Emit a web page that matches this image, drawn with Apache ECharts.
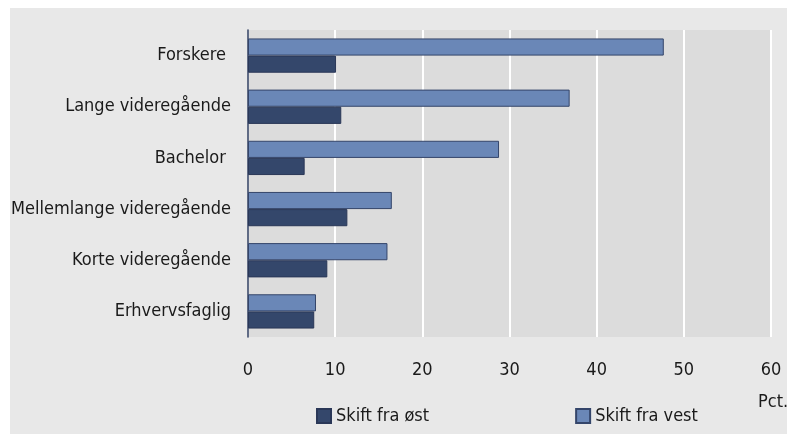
<!DOCTYPE html>
<html>
<head>
<meta charset="utf-8">
<script src="https://cdn.jsdelivr.net/npm/echarts@6/dist/echarts.min.js"></script>
<style>
  html, body { margin: 0; padding: 0; background: #ffffff; }
  #chart { width: 787px; height: 434px; }
</style>
</head>
<body>
<div id="chart"></div>
<script>
// Education groups, top to bottom
const categories = [
  'Forskere ',
  'Lange videregående',
  'Bachelor ',
  'Mellemlange videregående',
  'Korte videregående',
  'Erhvervsfaglig'
];
// Share (pct.) switching from the west
const fromWest = [47.7, 36.9, 28.8, 16.5, 16.0, 7.8];
// Share (pct.) switching from the east
const fromEast = [10.1, 10.7, 6.5, 11.4, 9.1, 7.6];
const xTicks = [0, 10, 20, 30, 40, 50, 60];

const FONT = "'DejaVu Sans Condensed', 'Liberation Sans Narrow', sans-serif";
const TEXT = '#1a1a1a';
const SIZE = 18;

const chart = echarts.init(document.getElementById('chart'), null, { renderer: 'canvas' });

chart.setOption({
  backgroundColor: '#ffffff',
  animation: false,
  graphic: [
    {
      type: 'rect', z: -10, silent: true,
      shape: { x: 10, y: 8, width: 777, height: 426 },
      style: { fill: '#e8e8e8' }
    },
    {
      type: 'text', left: 758, top: 393,
      style: { text: 'Pct.', font: SIZE + 'px ' + FONT, fill: TEXT }
    }
  ],
  grid: {
    left: 248, right: 16, top: 30, bottom: 97,
    show: true, backgroundColor: '#dcdcdc', borderWidth: 0
  },
  legend: {
    data: ['Skift fra øst', 'Skift fra vest'],
    left: 311, top: 402,
    itemWidth: 14, itemHeight: 14, itemGap: 146,
    icon: 'rect',
    textStyle: { fontFamily: FONT, fontSize: SIZE, color: TEXT }
  },
  xAxis: {
    type: 'value',
    min: xTicks[0], max: xTicks[xTicks.length - 1], interval: 10,
    axisLine: { show: false },
    axisTick: { show: false },
    axisLabel: { margin: 24, fontFamily: FONT, fontSize: SIZE, color: TEXT },
    splitLine: { show: true, lineStyle: { color: '#ffffff', width: 2 } }
  },
  yAxis: {
    type: 'category',
    data: categories,
    inverse: true,
    axisLine: { show: true, lineStyle: { color: '#2b3a5c', width: 1.5 } },
    axisTick: { show: false },
    axisLabel: { margin: 17, fontFamily: FONT, fontSize: SIZE, color: TEXT },
    splitLine: { show: false }
  },
  series: [
    {
      name: 'Skift fra vest',
      type: 'bar',
      data: fromWest,
      barGap: '0%',
      barCategoryGap: '33%',
      itemStyle: { color: '#6a87b7', borderColor: '#34456a', borderWidth: 1 }
    },
    {
      name: 'Skift fra øst',
      type: 'bar',
      data: fromEast,
      barGap: '0%',
      barCategoryGap: '33%',
      itemStyle: { color: '#34476b', borderColor: '#2a3757', borderWidth: 1 }
    }
  ]
});
</script>
</body>
</html>
